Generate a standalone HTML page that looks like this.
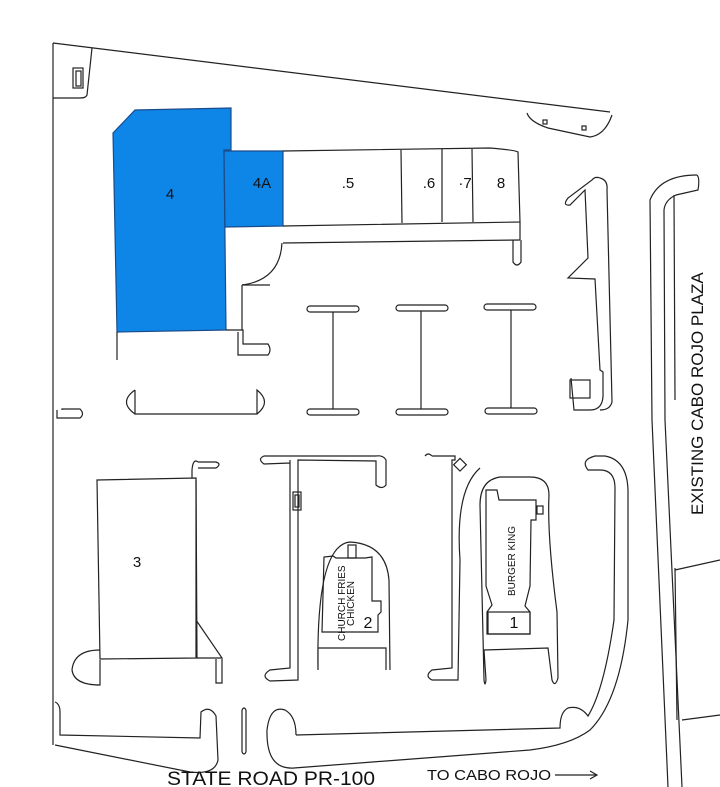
<!DOCTYPE html>
<html><head><meta charset="utf-8"><style>
html,body{margin:0;padding:0;background:#fff;}
svg{display:block;}
text{font-family:"Liberation Sans",sans-serif;fill:#111;}
</style></head><body>
<svg width="720" height="787" viewBox="0 0 720 787" xmlns="http://www.w3.org/2000/svg" fill="none" stroke="#222" stroke-width="1.2">
<path d="M53,43 L610,112"/>
<path d="M53,43 L53,745"/>
<path d="M92,48 L87,95 Q86,98 80,98 L53,98"/>
<rect x="73" y="68" width="10" height="20"/>
<rect x="76" y="71" width="5" height="15"/>
<path d="M527,113 Q530,122 548,128 L590,137 Q605,135 612,115"/>
<rect x="543" y="120" width="4" height="4"/><rect x="582" y="126" width="4" height="4"/>
<path d="M57,410 L57,418 L80,418 Q85,414 80,409 L62,409 L62,410"/>
<path d="M113,133 L135,110 L231,108 L231,150 L224,150 L226,330 L117,332 Z" fill="#0e86e8" stroke="#1a4b8a"/>
<path d="M224,151 L283,151 L283,226 L225,227 Z" fill="#0e86e8" stroke="#1a4b8a"/>
<path d="M226,330 L243,330 L243,344 L268,344 Q272,350 268,355 L238,355 L238,332"/>
<path d="M117,332 L117,360"/>
<path d="M283,151 L490,148 Q515,150 518,152 L520,222 L283,226"/>
<path d="M401,150 L402,223 M442,149 L442,222 M472,149 L473,222"/>
<path d="M283,243 L520,240"/>
<path d="M520,222 L520,240"/>
<path d="M513,240 L513,262 Q517,268 521,262 L521,240"/>
<path d="M282,243 Q280,280 242,285 M242,285 L242,330"/>
<path d="M242,285 L270,285"/>
<path d="M135,390 L135,414 L257,414 L257,390 Q272,402 257,414 M135,390 Q118,402 135,414"/>
<g>
<rect x="307" y="306" width="52" height="6" rx="3"/><rect x="307" y="409" width="52" height="6" rx="3"/><path d="M333,312 L333,409"/>
<rect x="396" y="305" width="52" height="6" rx="3"/><rect x="396" y="409" width="52" height="6" rx="3"/><path d="M421,311 L421,409"/>
<rect x="484" y="304" width="52" height="6" rx="3"/><rect x="485" y="408" width="52" height="6" rx="3"/><path d="M511,310 L511,408"/>
</g>
<path d="M600,178 Q595,176 592,180 L568,198 Q562,206 570,205 L585,190 L588,258 L568,278 L595,279 L600,370 L603,372 L603,392 Q604,410 590,410 L574,410 L571,378"/>
<path d="M600,178 Q608,180 607,190 L612,402 Q610,410 600,410"/>
<rect x="570" y="380" width="20" height="18"/>
<path d="M697,175 Q660,175 650,200 L652,420 L668,787"/>
<path d="M697,175 Q700,178 698,190 L676,195 Q665,200 664,210 L665,420 L682,787"/>
<path d="M674,195 L675,400"/>
<path d="M675,570 L720,560 M682,720 L720,715"/>
<path d="M675,568 L677,720"/>
<path d="M97,480 L196,478 L197,658 L100,659 Z"/>
<path d="M196,620 L222,658 L197,658 M196,480 L196,658"/>
<path d="M100,650 Q74,650 72,670 Q74,685 100,685 L100,660"/>
<path d="M216,659 L216,683 L222,683 L222,659"/>
<path d="M198,462 Q193,458 192,470 L192,478 M198,462 L216,462 Q222,464 216,468 L198,468"/>
<path d="M55,702 Q60,704 60,712 L60,735 L200,738 L201,712 Q210,705 216,716 L218,760 Q215,775 190,772 L55,745"/>
<path d="M242,710 L242,752 M246,710 L246,752 M242,710 Q244,706 246,710 M242,752 Q244,756 246,752"/>
<path d="M296,735 L560,728 Q560,712 568,708 Q580,705 588,716 Q604,690 614,620 L615,488 Q615,470 600,470 L588,470 Q580,460 595,456 L605,456 Q627,460 628,490 L628,620 Q620,700 590,730 Q570,745 530,750 L294,768 Q266,770 267,730 Q270,705 285,710 Q296,716 296,735"/>
<path d="M290,460 L290,668 L270,670 Q260,676 270,681 L298,680 L298,460 L376,461 L376,485 Q382,490 386,485 L386,460 Q383,455 376,456 L264,456 Q257,459 264,464 L290,463"/>
<rect x="293" y="492" width="8" height="18"/><rect x="295" y="495" width="4" height="12"/>
<path d="M318,670 Q316,545 350,542 Q386,544 389,580 L390,670 M318,670 L318,648 L386,648 L386,670"/>
<path d="M322,632 L324,557 L333,556 L336,558 L365,558 L372,557 L372,601 L381,601 L381,612 L378,615 L378,632 Z"/>
<rect x="348" y="545" width="8" height="13"/>
<path d="M432,456 L455,456 L455,460 L452,460 L452,668 L432,670 Q424,676 432,680 L458,680 L460,560 Q455,490 480,468"/>
<path d="M425,456 Q428,452 432,456"/>
<rect x="456" y="460" width="9" height="9" transform="rotate(45 460 464)"/>
<path d="M486,680 L484,650 L548,648 L552,680 Q555,688 558,678 L557,612 Q547,535 549,495 Q549,477 530,477 L500,477 Q480,480 480,505 L484,680 Q485,688 486,680"/>
<path d="M486,542 L486,490 L497,490 L499,500 L536,500 L536,520 L531,520 L530,586 L525,606 L530,612 L530,634 L487,634 L487,612 L492,605 L486,586 Z"/>
<rect x="488" y="612" width="42" height="22"/>
<rect x="537" y="506" width="6" height="8"/>
<g stroke="none">
<text x="170" y="199" font-size="15" text-anchor="middle">4</text>
<text x="262" y="188" font-size="15" text-anchor="middle">4A</text>
<text x="348" y="188" font-size="15" text-anchor="middle">.5</text>
<text x="429" y="188" font-size="15" text-anchor="middle">.6</text>
<text x="465" y="188" font-size="15" text-anchor="middle">·7</text>
<text x="501" y="188" font-size="15" text-anchor="middle">8</text>
<text x="137" y="567" font-size="15" text-anchor="middle">3</text>
<text x="368" y="628" font-size="16" text-anchor="middle">2</text>
<text x="514" y="628" font-size="16" text-anchor="middle">1</text>
<text transform="translate(345,641) rotate(-90)" font-size="10">CHURCH  FRIES</text>
<text transform="translate(354,626) rotate(-90)" font-size="10">CHICKEN</text>
<text transform="translate(515,596) rotate(-90)" font-size="10">BURGER  KING</text>
<text transform="translate(703,515) rotate(-90)" font-size="17">EXISTING CABO ROJO PLAZA</text>
<text x="167" y="785" font-size="19" textLength="208" lengthAdjust="spacingAndGlyphs">STATE ROAD PR-100</text>
<text x="427" y="780" font-size="15" textLength="124" lengthAdjust="spacingAndGlyphs">TO CABO ROJO</text>
</g>
<path d="M555,775 L597,775 M590,771 L597,775 L590,779"/>
</svg>
</body></html>
